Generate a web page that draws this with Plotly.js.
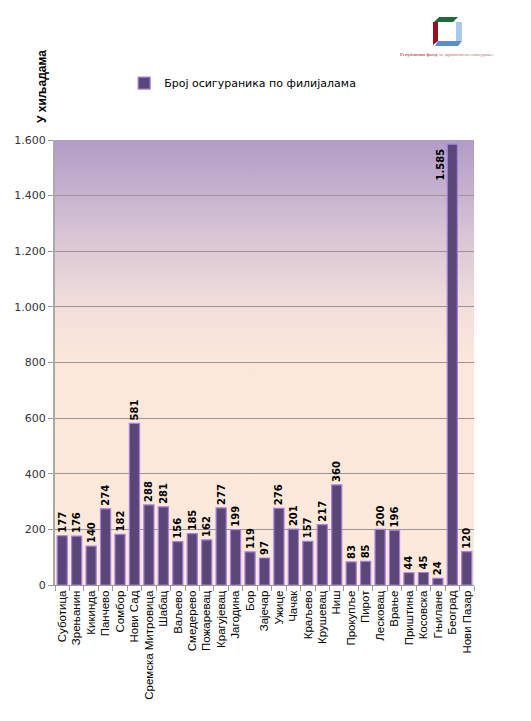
<!DOCTYPE html>
<html>
<head>
<meta charset="utf-8">
<script src="https://cdn.plot.ly/plotly-3.0.1.min.js"></script>
<style>html,body{margin:0;padding:0;background:#fff;}#chart{width:531px;height:721px;}</style>
</head>
<body>
<div id="chart"></div>
<script>
const cities = ['Суботица','Зрењанин','Кикинда','Панчево','Сомбор','Нови Сад','Сремска Митровица','Шабац','Ваљево','Смедерево','Пожаревац','Крагујевац','Јагодина','Бор','Зајечар','Ужице','Чачак','Краљево','Крушевац','Ниш','Прокупље','Пирот','Лесковац','Врање','Приштина','Косовска','Гњилане','Београд','Нови Пазар'];
const insured = [177,176,140,274,182,581,288,281,156,185,162,277,199,119,97,276,201,157,217,360,83,85,200,196,44,45,24,1585,120];
const seriesName = 'Број осигураника по филијалама';
const yTickVals = [0,200,400,600,800,1000,1200,1400,1600];
const yTitle = 'У хиљадама';
const logoText = 'Републички фонд <span style="color:#c07070">за здравствено осигурање</span>';

const maxIdx = insured.indexOf(Math.max(...insured));
const fmt = v => v.toLocaleString('de-DE');

const bgSvg = '<svg xmlns="http://www.w3.org/2000/svg" width="100" height="100" preserveAspectRatio="none">' +
  '<defs><linearGradient id="g" x1="0" y1="0" x2="0" y2="1">' +
  '<stop offset="0" stop-color="#b09cc6"/><stop offset="0.2" stop-color="#d6c2d4"/>' +
  '<stop offset="0.38" stop-color="#f2dfdb"/><stop offset="0.5" stop-color="#fce8db"/>' +
  '<stop offset="1" stop-color="#fde9da"/></linearGradient></defs>' +
  '<rect width="100" height="100" fill="url(#g)"/></svg>';
const logoSvg = '<svg xmlns="http://www.w3.org/2000/svg" width="30" height="31" viewBox="0 0 30 31">' +
  '<polygon points="1,6 6,1 25,1 20,6" fill="#1e6b3a"/>' +
  '<polygon points="0,6 5,6 5,25 0,29" fill="#9b1020"/>' +
  '<polygon points="23,6 29,6 29,25 23,25" fill="#a8c8ec"/>' +
  '<polygon points="5,25 29,25 25,30 2,30" fill="#5a8ed0"/>' +
  '</svg>';

const trace = {
  type: 'bar',
  x: cities,
  y: insured,
  name: seriesName,
  showlegend: true,
  marker: {color: '#5a4677', line: {color: '#a77fe0', width: 1.2}},
  text: insured.map((v,i) => i === maxIdx ? '' : fmt(v)),
  textposition: 'outside',
  textangle: -90,
  constraintext: 'none',
  cliponaxis: false,
  textfont: {family: 'DejaVu Sans', size: 10, color: '#000', weight: 'bold'},
  hoverinfo: 'x+y'
};

const layout = {
  width: 531, height: 721,
  margin: {l: 55, r: 57, t: 140, b: 136},
  paper_bgcolor: '#ffffff',
  plot_bgcolor: 'rgba(0,0,0,0)',
  separators: ',.',
  bargap: 0.3,
  showlegend: true,
  legend: {orientation: 'h', x: 0.165, xanchor: 'left', y: 1.128, yanchor: 'middle',
           bgcolor: 'rgba(0,0,0,0)', font: {family: 'DejaVu Sans', size: 11, color: '#000'}},
  xaxis: {
    type: 'category', tickangle: -90, ticks: 'outside', tickson: 'boundaries', ticklen: 5,
    tickcolor: '#999', showline: true, linecolor: '#999', linewidth: 1,
    tickfont: {family: 'Liberation Sans', size: 11.5, color: '#000'}, showgrid: false, fixedrange: true
  },
  yaxis: {
    range: [0, 1600], tickvals: yTickVals, tickformat: ',', ticks: 'outside', ticklen: 5,
    tickcolor: '#999', showline: true, linecolor: '#aaa', linewidth: 2,
    gridcolor: '#9a9494', gridwidth: 1, zeroline: false,
    tickfont: {family: 'DejaVu Sans', size: 11, color: '#333'}, fixedrange: true
  },
  images: [
    {source: 'data:image/svg+xml;utf8,' + encodeURIComponent(bgSvg), xref: 'paper', yref: 'paper',
     x: 0, y: 1, sizex: 1, sizey: 1, sizing: 'stretch', layer: 'below', xanchor: 'left', yanchor: 'top'},
    {source: 'data:image/svg+xml;utf8,' + encodeURIComponent(logoSvg), xref: 'paper', yref: 'paper',
     x: (433-55)/419, y: (585-16)/445, sizex: 30/419, sizey: 31/445, sizing: 'stretch',
     xanchor: 'left', yanchor: 'top', layer: 'above'}
  ],
  annotations: [
    {text: '<b>' + yTitle + '</b>', xref: 'paper', yref: 'paper', x: (42-55)/419, y: (585-87)/445,
     textangle: -90, showarrow: false, xanchor: 'center', yanchor: 'middle',
     font: {family: 'Liberation Sans', size: 12, color: '#000'}},
    {text: fmt(insured[maxIdx]), x: cities[maxIdx], y: insured[maxIdx], xref: 'x', yref: 'y',
     xshift: -12, yshift: -2, textangle: -90, showarrow: false, xanchor: 'center', yanchor: 'top',
     font: {family: 'DejaVu Sans', size: 10, color: '#000', weight: 'bold'}},
    {text: logoText, xref: 'paper', yref: 'paper', x: (447-55)/419, y: (585-55)/445,
     showarrow: false, xanchor: 'center', yanchor: 'middle',
     font: {family: 'Liberation Serif', size: 5, color: '#9b1020'}}
  ]
};

Plotly.newPlot('chart', [trace], layout, {displayModeBar: false, staticPlot: true});
</script>
</body>
</html>
